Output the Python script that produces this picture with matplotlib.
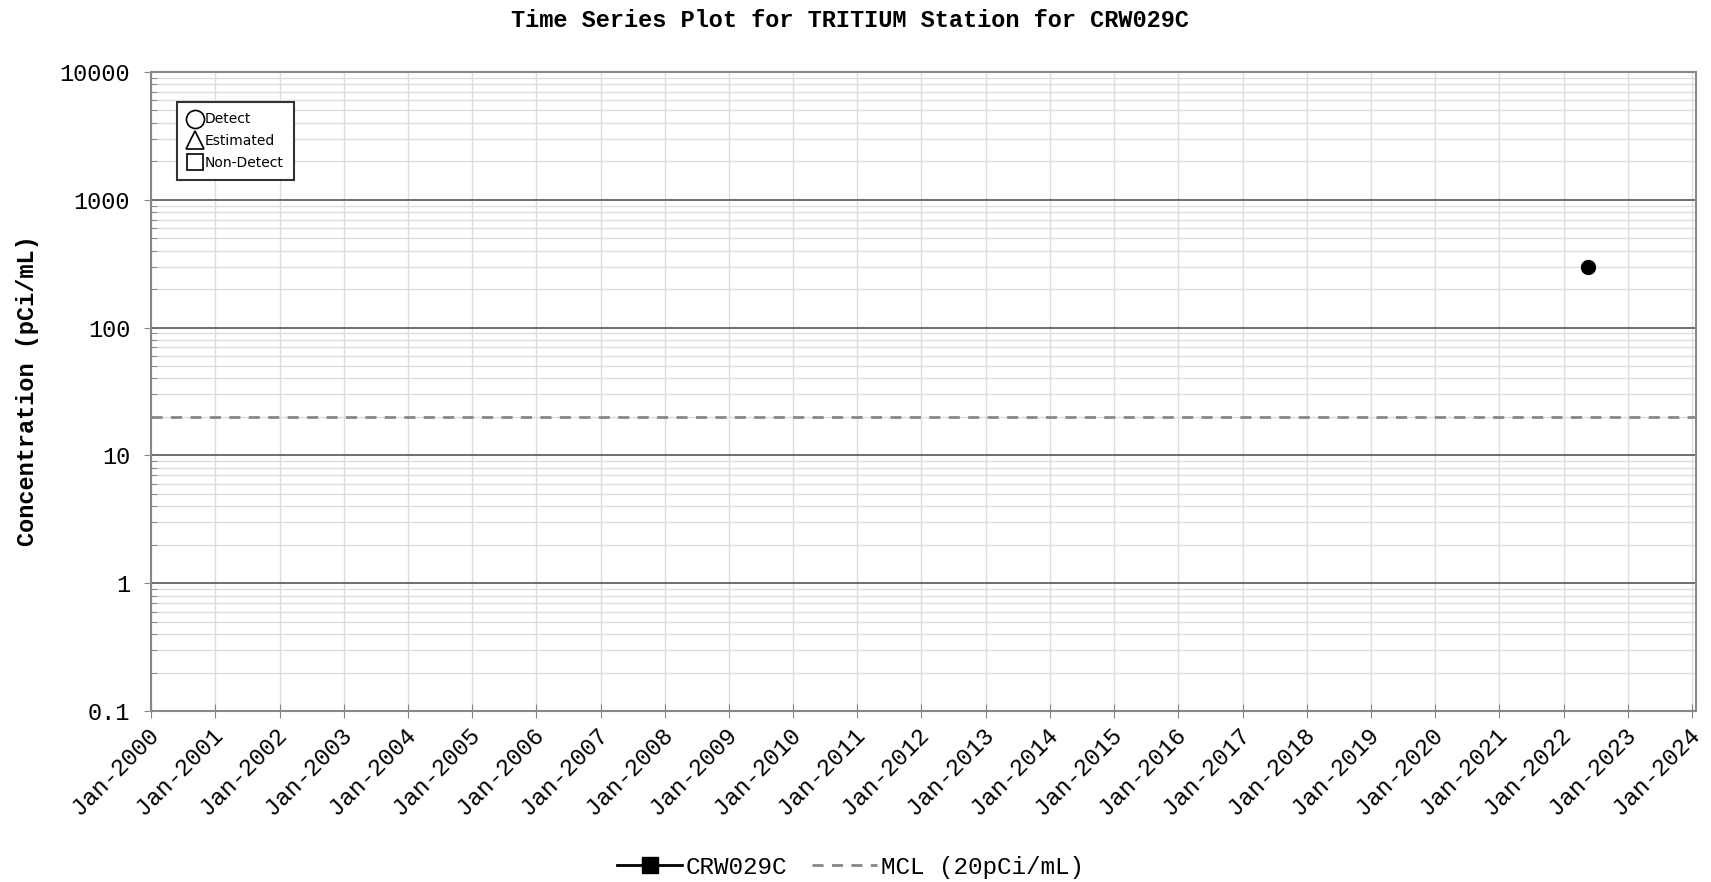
import matplotlib
matplotlib.use("Agg")
import matplotlib.pyplot as plt
import matplotlib.dates as mdates
import matplotlib.transforms as mtransforms
from matplotlib.lines import Line2D
from matplotlib.ticker import LogLocator, FuncFormatter, NullFormatter
from datetime import datetime

# datos
station = "CRW029C"
sample_dates = [datetime(2022, 5, 20)]
sample_values = [300.0]
mcl_value = 20.0
year_ticks = list(range(2000, 2025))

mono = "Liberation Mono"

fig = plt.figure(figsize=(17.11, 8.82), dpi=100)
ax = fig.add_axes([0.0883, 0.1939, 0.9029, 0.7245])

ax.set_yscale("log")
ax.set_ylim(0.1, 10000)
ax.set_xlim(datetime(2000, 1, 1), datetime(2024, 1, 24))

# lineas de la grilla
ax.yaxis.set_major_locator(LogLocator(base=10))
ax.yaxis.set_minor_locator(LogLocator(base=10, subs=range(2, 10)))
ax.yaxis.set_major_formatter(FuncFormatter(lambda v, p: "%g" % v))
ax.yaxis.set_minor_formatter(NullFormatter())
ax.set_xticks([datetime(y, 1, 1) for y in year_ticks])
ax.xaxis.set_major_formatter(mdates.DateFormatter("%b-%Y"))

ax.grid(True, which="minor", axis="y", color="#dddddd", lw=1)
ax.grid(True, which="major", axis="y", color="#555555", lw=1.2)
ax.grid(True, which="major", axis="x", color="#dddddd", lw=1)
ax.set_axisbelow(True)

ax.tick_params(axis="y", which="major", direction="out", length=5, color="#888888",
               pad=10, labelsize=17)
ax.tick_params(axis="y", which="minor", direction="in", length=4, color="#777777")
ax.tick_params(axis="x", which="major", direction="inout", length=10, color="#888888",
               pad=4, labelsize=17)
for lab in ax.get_xticklabels() + ax.get_yticklabels():
    lab.set_fontfamily(mono)
shift = mtransforms.ScaledTranslation(-4 / 100, 0, fig.dpi_scale_trans)
for lab in ax.get_xticklabels():
    lab.set_rotation(45)
    lab.set_ha("right")
    lab.set_va("top")
    lab.set_rotation_mode("anchor")
    lab.set_transform(lab.get_transform() + shift)

for s in ax.spines.values():
    s.set_color("#888888")
    s.set_linewidth(1.5)

# MCL y datos
ax.axhline(mcl_value, color="#888888", lw=2, ls=(0, (4, 3)))
ax.plot(sample_dates, sample_values, "o", color="black", markersize=10, zorder=5)

# leyenda de simbolos
sym = [
    Line2D([], [], ls="none", marker="o", mfc="white", mec="black", mew=1.2,
           markersize=13, label="Detect"),
    Line2D([], [], ls="none", marker="^", mfc="white", mec="black", mew=1.2,
           markersize=13, label="Estimated"),
    Line2D([], [], ls="none", marker="s", mfc="white", mec="black", mew=1.2,
           markersize=12, label="Non-Detect"),
]
leg = ax.legend(handles=sym, loc="upper left", bbox_to_anchor=(0.0168, 0.953),
                borderaxespad=0, fancybox=False, framealpha=1, edgecolor="#333333",
                prop={"family": "DejaVu Sans", "size": 10}, handlelength=1.1,
                handletextpad=0.15, labelspacing=0.55, borderpad=0.75)
leg.get_frame().set_linewidth(1.5)

# leyenda inferior
bottom = [
    Line2D([], [], color="black", lw=2, marker="s", markersize=11, label=station),
    Line2D([], [], color="#888888", lw=2, ls=(0, (4, 3)), label="MCL (20pCi/mL)"),
]
fig.legend(handles=bottom, loc="center", bbox_to_anchor=(0.497, 0.017), ncol=2,
           frameon=False, prop={"family": mono, "size": 17.5}, handlelength=2.7,
           handletextpad=0.15, columnspacing=1.0)

fig.text(0.497, 0.977, "Time Series Plot for TRITIUM Station for " + station,
         ha="center", va="center", fontfamily=mono, fontweight="bold", fontsize=17)
fig.text(0.016, 0.557, "Concentration (pCi/mL)", rotation=90, ha="center", va="center",
         fontfamily=mono, fontweight="bold", fontsize=17)

fig.savefig("out.png", dpi=100)
